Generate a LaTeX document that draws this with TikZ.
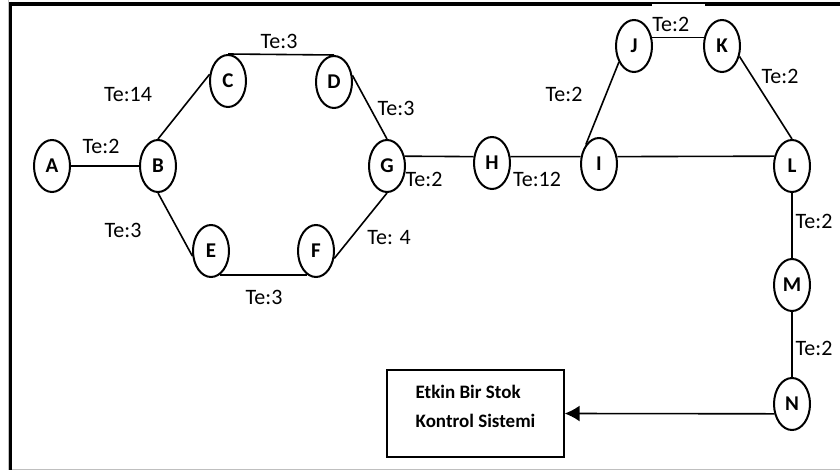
\documentclass[tikz,border=0pt]{standalone}
\usepackage{fontspec}
\setmainfont{Carlito}
\usetikzlibrary{arrows.meta,shapes.geometric}
\definecolor{cframe}{RGB}{191,191,191}
\tikzset{
  edge/.style={draw, line width=0.8pt, color=black},
  te/.style={inner sep=0pt, font=\fontsize{11}{13}\selectfont},
}

\begin{document}
\begin{tikzpicture}[x=0.5pt,y=-0.5pt]
\useasboundingbox (0,0) rectangle (840,470);
% frame
\draw[cframe, line width=0.5pt] (8,0) -- (8,469) -- (840,469);
\draw[line width=2pt] (9,4) -- (840,4);
\draw[line width=1.5pt] (10.5,2) -- (10.5,470);

% times
\node[te] (tAB) at (101,146) {Te:2};
\node[te] (tBC) at (128,95) {Te:14};
\node[te] (tCD) at (279,41) {Te:3};
\node[te] (tDG) at (396,108) {Te:3};
\node[te] (tBE) at (123,230) {Te:3};
\node[te] (tFG) at (389,238) {Te: 4};
\node[te] (tEF) at (264,297) {Te:3};
\node[te] (tGH) at (424,179) {Te:2};
\node[te] (tHI) at (537,179) {Te:12};
\node[te] (tIJ) at (564,94) {Te:2};
\node[te, fill=white, anchor=north west, minimum height=20pt, text width=26.5pt] (tJK) at (652,4) {Te:2};
\node[te] (tKL) at (780,76) {Te:2};
\node[te] (tLM) at (814,221) {Te:2};
\node[te] (tMN) at (814,348) {Te:2};

\begin{scope}[every node/.style={draw, ellipse, minimum width=18pt, minimum height=26pt,
inner sep=0pt, line width=1pt, fill=white, font=\fontsize{10.5}{12}\selectfont\bfseries}]
\node (A) at (52,166) {A};
\node (B) at (158,166) {B};
\node (C) at (228,81) {C};
\node (D) at (334,82) {D};
\node (E) at (211,251) {E};
\node (F) at (316,251) {F};
\node (G) at (387,166) {G};
\node (H) at (492,163) {H};
\node (I) at (599,164) {I};
\node (J) at (634,46) {J};
\node (K) at (722,46) {K};
\node (L) at (792,166) {L};
\node (M) at (792,285) {M};
\node (N) at (792,404) {N};
\end{scope}

\node[draw, line width=0.65pt, minimum width=88.5pt, minimum height=43.5pt, align=left,
text depth=7pt, font=\fontsize{9.5}{14.5}\selectfont\bfseries] (stok) at (475.5,413.5) {Etkin Bir Stok\\Kontrol Sistemi};

\path[edge] (A.east) -- (B.west);
\path[edge] (B.north) -- (C.160);
\path[edge] (C.north) -- (D.north);
\path[edge] (D.20) -- (G.north);
\path[edge] (B.south) -- (E.195);
\path[edge] (E.-70) -- (F.-110);
\path[edge] (F.-22) -- (G.south);
\path[edge] (G.29) -- (H.161);
\path[edge] (H.19) -- (I.158);
\path[edge] (I.124) -- (J.227);
\path[edge] (J.25) -- (K.155);
\path[edge] (K.-31) -- (L.north);
\path[edge] (I.22) -- (L.151);
\path[edge] (L.south) -- (M.north);
\path[edge] (M.south) -- (N.north);
\draw[edge, -{Latex[length=7.5pt,width=8pt]}] (N.209) -- (stok.east);

\end{tikzpicture}
\end{document}
